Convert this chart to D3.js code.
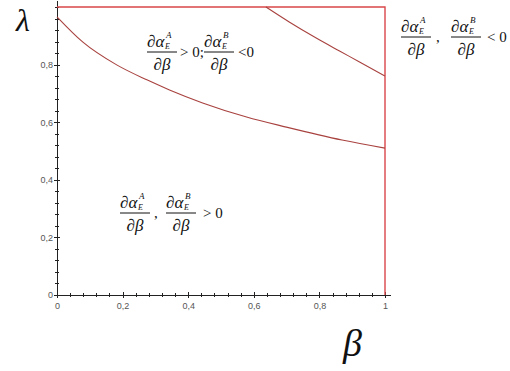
<!DOCTYPE html>
<html lang="en">
<head>
<meta charset="utf-8">
<title>lambda beta</title>
<style>
  body { margin: 0; background: #fff; }
  .axis path, .axis line { stroke: #222; stroke-width: 1px; shape-rendering: crispEdges; }
  .axis text { font: 9px "Liberation Sans", sans-serif; fill: #555; }
  .curve { fill: none; stroke: #a8423f; stroke-width: 1.1px; }
  .frame { fill: none; stroke: #d9474a; stroke-width: 1.4px; }
  .math { font-family: "Liberation Serif", serif; fill: #111; }
</style>
</head>
<body>
<svg width="510" height="371"></svg>
<script src="https://cdnjs.cloudflare.com/ajax/libs/d3/7.8.5/d3.min.js"></script>
<script>

// values
var lowerBeta   = [0, 0.079, 0.182, 0.274, 0.343, 0.444, 0.578, 0.699, 0.869, 1];
var lowerLambda = [0.966, 0.878, 0.799, 0.747, 0.712, 0.667, 0.618, 0.583, 0.538, 0.51];
var upperBeta   = [0.637, 0.708, 0.789, 0.86, 0.921, 1];
var upperLambda = [1, 0.948, 0.893, 0.848, 0.81, 0.76];

var xMajor = [0, 0.2, 0.4, 0.6, 0.8, 1];
var xTickLabels = ["0", "0,2", "0,4", "0,6", "0,8", "1"];
var yMajor = [0, 0.2, 0.4, 0.6, 0.8];
var yTickLabels = ["0", "0,2", "0,4", "0,6", "0,8"];
var minorStep = 0.04;

var svg = d3.select("svg"),
    margin = {top: 7, right: 125, bottom: 76, left: 57},
    width = svg.attr("width") - margin.left - margin.right,
    height = svg.attr("height") - margin.top - margin.bottom,
    g = svg.append("g").attr("transform", "translate(" + margin.left + "," + margin.top + ")");

var x = d3.scaleLinear().domain([0, 1]).range([0, width]),
    y = d3.scaleLinear().domain([0, 1]).range([height, 0]);

var minor = d3.range(0, 1 + 1e-9, minorStep);

// minor ticks crossing the axes
g.append("g")
    .attr("class", "axis")
    .attr("transform", "translate(0," + height + ")")
    .call(d3.axisBottom(x).tickValues(minor).tickSize(2).tickFormat(""))
    .call(function(a) { a.select(".domain").remove(); a.selectAll(".tick line").attr("y1", -2); });

g.append("g")
    .attr("class", "axis")
    .call(d3.axisLeft(y).tickValues(minor).tickSize(2).tickFormat(""))
    .call(function(a) { a.select(".domain").remove(); a.selectAll(".tick line").attr("x1", 2); });

// main axes with labels
g.append("g")
    .attr("class", "axis")
    .attr("transform", "translate(0," + height + ")")
    .call(d3.axisBottom(x).tickValues(xMajor).tickSize(3).tickSizeOuter(0)
      .tickFormat(function(d, i) { return xTickLabels[i]; }))
    .call(function(a) {
      a.select(".domain").attr("d", "M0,0H" + (width + 6));
      a.selectAll(".tick line").attr("y1", -3);
      a.selectAll(".tick text").attr("dy", "0.9em");
    });

g.append("g")
    .attr("class", "axis")
    .call(d3.axisLeft(y).tickValues(yMajor).tickSize(3).tickSizeOuter(0)
      .tickFormat(function(d, i) { return yTickLabels[i]; }))
    .call(function(a) {
      a.select(".domain").attr("d", "M0," + height + "V-6");
      a.selectAll(".tick line").attr("x1", 3);
      a.selectAll(".tick text").attr("x", -4);
    });

// frame: lambda = 1 and beta = 1
g.append("path")
    .attr("class", "frame")
    .attr("d", "M" + x(0) + "," + y(1) + "H" + x(1) + "V" + y(0));

var line = d3.line()
    .curve(d3.curveMonotoneX)
    .x(function(d) { return x(d[0]); })
    .y(function(d) { return y(d[1]); });

g.append("path")
    .attr("class", "curve")
    .attr("d", line(d3.zip(lowerBeta, lowerLambda)));

g.append("path")
    .attr("class", "curve")
    .attr("d", line(d3.zip(upperBeta, upperLambda)));

// axis names
svg.append("text").attr("class", "math")
    .attr("x", 16).attr("y", 31)
    .style("font-size", "32px").style("font-style", "italic")
    .text("λ");

svg.append("text").attr("class", "math")
    .attr("x", 343).attr("y", 356)
    .style("font-size", "38px").style("font-style", "italic")
    .text("β");

// d alpha_E^s / d beta
function fraction(left, barY, sup) {
  var f = svg.append("g").attr("transform", "translate(" + left + "," + barY + ")");
  var num = f.append("text").attr("class", "math").attr("y", -5).style("font-size", "17px");
  num.append("tspan").text("∂");
  num.append("tspan").style("font-style", "italic").text("α");
  f.append("text").attr("class", "math").attr("x", 18).attr("y", -3)
      .style("font-size", "8px").style("font-style", "italic").text("E");
  f.append("text").attr("class", "math").attr("x", 19).attr("y", -14)
      .style("font-size", "9px").style("font-style", "italic").text(sup);
  f.append("line").attr("x1", 0).attr("x2", 30).attr("y1", 0).attr("y2", 0)
      .attr("stroke", "#111").attr("stroke-width", 1);
  var den = f.append("text").attr("class", "math").attr("x", 15).attr("y", 18)
      .attr("text-anchor", "middle").style("font-size", "17px");
  den.append("tspan").text("∂");
  den.append("tspan").style("font-style", "italic").text("β");
}

function sign(px, py, s) {
  svg.append("text").attr("class", "math")
      .attr("x", px).attr("y", py + 5)
      .style("font-size", "15px").text(s);
}

fraction(147, 52, "A");
sign(180, 52, "> 0;");
fraction(204, 52, "B");
sign(238, 52, "<0");

fraction(401, 37, "A");
sign(436, 37, ",");
fraction(451, 37, "B");
sign(487, 37, "< 0");

fraction(120, 213, "A");
sign(154, 213, ",");
fraction(166, 213, "B");
sign(203, 213, "> 0");

</script>
</body>
</html>
